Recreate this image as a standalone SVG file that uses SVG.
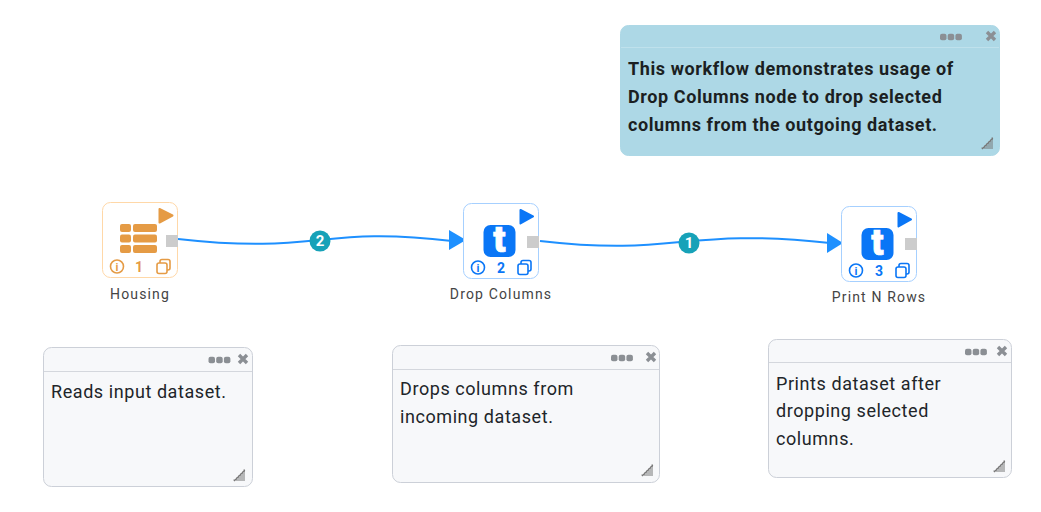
<svg xmlns="http://www.w3.org/2000/svg" xmlns:xlink="http://www.w3.org/1999/xlink" width="1041" height="512" viewBox="0 0 1041 512">
<style>
text{font-family:Roboto,"Liberation Sans",sans-serif}
.box{fill:#fff;stroke-width:1}
.o .box{stroke:#ffd8a8}.b .box{stroke:#a6d0ff}
.o .ic{fill:#e59b45}.b .ic{fill:#0a76f6}
.pl{stroke-width:2;stroke-linejoin:round}
.o .pl{stroke:#e59b45}.b .pl{stroke:#0a76f6}
.o .ln{fill:none;stroke:#e59b45;stroke-width:1.6}.b .ln{fill:none;stroke:#0a76f6;stroke-width:1.6}
.num{font-size:14px;font-weight:700;text-anchor:middle}
.o .num{fill:#e59b45}.b .num{fill:#0a76f6}
.i{font-size:11px;font-weight:700;text-anchor:middle}
.o .i{fill:#e59b45}.b .i{fill:#0a76f6}
.t{font-size:36px;font-weight:900;fill:#fff;stroke:#fff;stroke-width:.7;text-anchor:middle}
.port{fill:#ccc}
.lbl{font-size:14px;fill:#444;text-anchor:middle;letter-spacing:1.15px}
.edge{fill:none;stroke:#1e90ff;stroke-width:2}
.head{fill:#1e90ff}
.badge{fill:#17a2b8}
.bt{fill:#fff;font-size:15px;font-weight:700;text-anchor:middle}
.note{fill:#f7f8fa;stroke:#ccd0d8}
.sep{stroke:#d4d7dd;stroke-width:1}
.nt{font-size:18px;fill:#212529;letter-spacing:.57px}
.blue .note{fill:#add8e6;stroke:#add8e6}
.blue .sep{stroke:#bfe1ec}
.blue .nt{font-weight:700;fill:#1b1f22;letter-spacing:.6px}
.d{fill:#8b8f94}
.x{stroke:#8b8f94;stroke-width:3.4;fill:none}
.g{stroke:#777;stroke-width:1.1;fill:none}
.blue .d{fill:#7f939c}.blue .x{stroke:#7f939c}
</style>
<defs>
<g id="dots"><rect x="-11" y="-3.200" width="6.500" height="6.400" rx="2" class="d"/><rect x="-3.300" y="-3.200" width="6.500" height="6.400" rx="2" class="d"/><rect x="4.400" y="-3.200" width="6.500" height="6.400" rx="2" class="d"/></g>
<path id="close" class="x" d="M-4-4 4 4M4-4-4 4"/>
<path id="grip" class="g" d="M-11.500 0H0M-9 -2H0M-7-4H0M-5-6H0M-3-8H0M-1.500-10H0M-11 1 0-10"/>
</defs>
<g id="connectors">
<path class="edge" d="M178 239C320 255 320 225 452 241"/>
<path class="head" d="M449 230 466 240 449 250Z"/>
<circle class="badge" cx="320" cy="241" r="10.500"/><text class="bt" x="320" y="246">2</text>
<path class="edge" d="M540 241C680 257 680 227 830 243"/>
<path class="head" d="M827 233 843 243 827 253Z"/>
<circle class="badge" cx="689" cy="243" r="10.500"/><text class="bt" x="689" y="248">1</text>
</g>
<g id="node-housing" class="o">
<rect class="box" x="102.500" y="202.500" width="75" height="75" rx="8"/>
<path class="ic pl" d="M159.500 209 172.500 215.500 159.500 222.500Z"/>
<rect class="ic" x="120" y="224" width="11" height="8" rx="2"/><rect class="ic" x="133" y="224" width="24" height="8" rx="2"/>
<rect class="ic" x="120" y="234.500" width="11" height="8" rx="2"/><rect class="ic" x="133" y="234.500" width="24" height="8" rx="2"/>
<rect class="ic" x="120" y="245" width="11" height="8" rx="2"/><rect class="ic" x="133" y="245" width="24" height="8" rx="2"/>
<rect class="port" x="166" y="235" width="12" height="12"/>
<circle class="ln" cx="117" cy="266.500" r="6.500"/><text class="i" x="117" y="270.500">i</text>
<text class="num" x="139" y="271.500">1</text>
<rect class="ln" x="157" y="263" width="10" height="10.500" rx="2"/><path class="ln" d="M160 263V261.500Q160 259.500 162 259.500H168Q170 259.500 170 261.500V268Q170 270 168 270H167"/>
<text class="lbl" x="140" y="299">Housing</text>
</g>
<g id="node-drop-columns" class="b">
<rect class="box" x="463.500" y="203.500" width="75" height="75" rx="8"/>
<path class="ic pl" d="M520.500 210 533 216.500 520.500 223.500Z"/>
<rect class="ic" x="483.500" y="225" width="32" height="32" rx="7"/>
<text class="t" x="499.500" y="251.500">t</text>
<rect class="port" x="527" y="236" width="12" height="12"/>
<circle class="ln" cx="478" cy="267.500" r="6.500"/><text class="i" x="478" y="271.500">i</text>
<text class="num" x="501" y="272.500">2</text>
<rect class="ln" x="518" y="264" width="10" height="10.500" rx="2"/><path class="ln" d="M521 264V262.500Q521 260.500 523 260.500H529Q531 260.500 531 262.500V269Q531 271 529 271H528"/>
<text class="lbl" x="501" y="299">Drop Columns</text>
</g>
<g id="node-print-n-rows" class="b">
<rect class="box" x="841.500" y="206.500" width="75" height="75" rx="8"/>
<path class="ic pl" d="M898.500 213 911 219.500 898.500 226.500Z"/>
<rect class="ic" x="861.500" y="228" width="32" height="32" rx="7"/>
<text class="t" x="877.500" y="254.500">t</text>
<rect class="port" x="905" y="238" width="12" height="12"/>
<circle class="ln" cx="856" cy="270.500" r="6.500"/><text class="i" x="856" y="274.500">i</text>
<text class="num" x="879" y="275.500">3</text>
<rect class="ln" x="896" y="267" width="10" height="10.500" rx="2"/><path class="ln" d="M899 267V265.500Q899 263.500 901 263.500H907Q909 263.500 909 265.500V272Q909 274 907 274H906"/>
<text class="lbl" x="879" y="302">Print N Rows</text>
</g>
<g id="note-main" class="blue">
<rect class="note" x="620.500" y="25.500" width="379" height="130" rx="8"/>
<path class="sep" d="M621 47.500H999"/>
<use xlink:href="#dots" href="#dots" x="951" y="37"/>
<use xlink:href="#close" href="#close" x="991" y="36"/>
<text class="nt" x="628" y="75">This workflow demonstrates usage of</text>
<text class="nt" x="628" y="103">Drop Columns node to drop selected</text>
<text class="nt" x="628" y="131">columns from the outgoing dataset.</text>
<use xlink:href="#grip" href="#grip" x="993" y="148"/>
</g>
<g id="note-housing">
<rect class="note" x="43.500" y="347.500" width="209" height="139" rx="8"/>
<path class="sep" d="M44 371.500H252"/>
<use xlink:href="#dots" href="#dots" x="219.500" y="360"/>
<use xlink:href="#close" href="#close" x="243" y="359"/>
<text class="nt" x="51" y="398">Reads input dataset.</text>
<use xlink:href="#grip" href="#grip" x="245" y="480"/>
</g>
<g id="note-drop">
<rect class="note" x="392.500" y="345.500" width="267" height="137" rx="8"/>
<path class="sep" d="M393 369.500H659"/>
<use xlink:href="#dots" href="#dots" x="622" y="358"/>
<use xlink:href="#close" href="#close" x="651" y="357"/>
<text class="nt" x="400" y="395">Drops columns from</text>
<text class="nt" x="400" y="423">incoming dataset.</text>
<use xlink:href="#grip" href="#grip" x="653" y="475"/>
</g>
<g id="note-print">
<rect class="note" x="768.500" y="339.500" width="243" height="138" rx="8"/>
<path class="sep" d="M769 362.500H1011"/>
<use xlink:href="#dots" href="#dots" x="976" y="352"/>
<use xlink:href="#close" href="#close" x="1002" y="351"/>
<text class="nt" x="776" y="390">Prints dataset after</text>
<text class="nt" x="776" y="417">dropping selected</text>
<text class="nt" x="776" y="445">columns.</text>
<use xlink:href="#grip" href="#grip" x="1005" y="471"/>
</g>
</svg>
